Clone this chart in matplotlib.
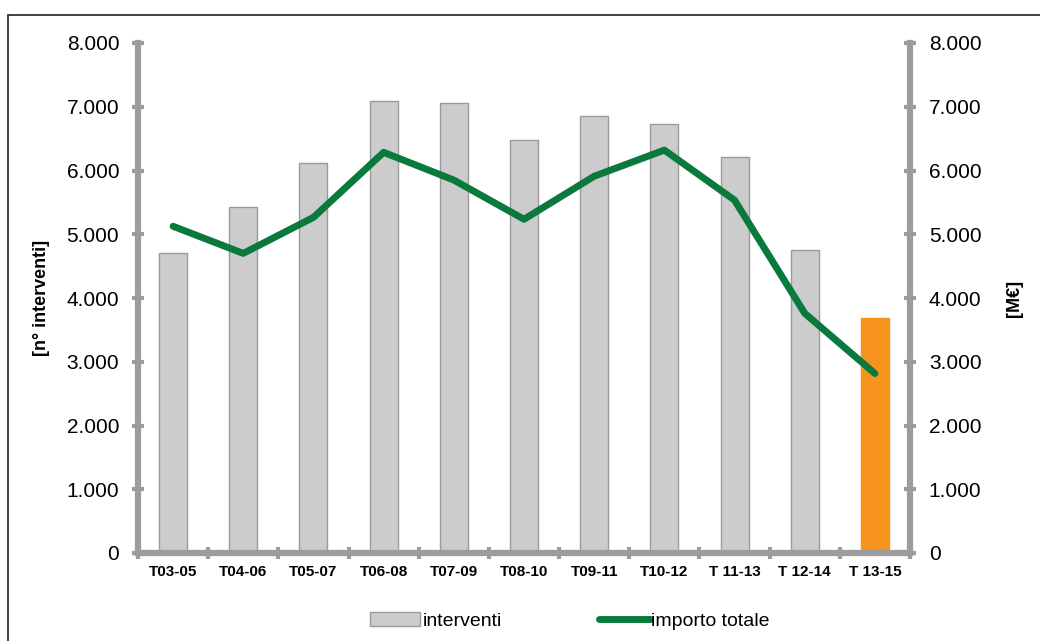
import matplotlib.pyplot as plt
from matplotlib.patches import Rectangle
from matplotlib.ticker import FuncFormatter, FixedLocator
import numpy as np

plt.rcParams["font.family"] = ["Liberation Sans", "DejaVu Sans"]

periodi = ["T03-05", "T04-06", "T05-07", "T06-08", "T07-09", "T08-10",
           "T09-11", "T10-12", "T 11-13", "T 12-14", "T 13-15"]
interventi = [4700, 5420, 6115, 7090, 7055, 6480, 6850, 6730, 6210, 4750, 3680]
importo = [5125, 4700, 5265, 6285, 5850, 5235, 5910, 6320, 5535, 3760, 2815]

grigio = "#9c9c9c"
fmt = FuncFormatter(lambda v, p: f"{int(v):,}".replace(",", "."))

fig = plt.figure(figsize=(10.4, 6.41), dpi=100)
fig.patches.append(Rectangle((8 / 1040, -0.1), 1.2, (641 - 15) / 641 + 0.1,
                             transform=fig.transFigure, fill=False,
                             edgecolor="#222222", linewidth=1.2))

ax = fig.add_axes([138 / 1040, 88 / 641, (910 - 138) / 1040, (553 - 43) / 641])
ax2 = ax.twinx()

x = np.arange(len(periodi))
colori = ["#cccccc"] * (len(periodi) - 1) + ["#f7941d"]
bordi = ["#9a9a9a"] * (len(periodi) - 1) + ["#f7941d"]
ax.bar(x, interventi, width=0.4, color=colori, edgecolor=bordi, linewidth=1,
       label="interventi", zorder=2)
ax2.plot(x, importo, color="#0a7a3c", linewidth=5, solid_capstyle="round",
         solid_joinstyle="round", label="importo totale", zorder=3)

for a in (ax, ax2):
    a.set_ylim(0, 8000)
    a.set_xlim(-0.5, len(periodi) - 0.5)
    a.yaxis.set_major_locator(FixedLocator(np.arange(0, 8001, 1000)))
    a.yaxis.set_major_formatter(fmt)
    for s in a.spines.values():
        s.set_visible(False)

ax.spines["left"].set_visible(True)
ax.spines["bottom"].set_visible(True)
ax2.spines["right"].set_visible(True)
for s in (ax.spines["left"], ax.spines["bottom"], ax2.spines["right"]):
    s.set_color(grigio)
    s.set_linewidth(4.5)

ax.set_xticks(x)
ax.set_xticklabels(periodi, fontsize=11, fontweight="bold")
ax.set_xticks(np.arange(-0.5, len(periodi), 1), minor=True)
ax.tick_params(axis="x", which="major", length=0, pad=9)
ax.tick_params(axis="x", which="minor", direction="inout", length=9,
               width=3, color=grigio)
ax.tick_params(axis="y", direction="inout", length=9, width=3, color=grigio,
               labelsize=15, pad=9)
ax2.tick_params(axis="y", direction="inout", length=9, width=3, color=grigio,
                labelsize=15, pad=9)
ax2.set_zorder(ax.get_zorder() + 1)

ax.set_ylabel("[n° interventi]", fontsize=13, fontweight="bold", labelpad=12)
ax2.set_ylabel("[M€]", fontsize=13, fontweight="bold", labelpad=18)

h1, l1 = ax.get_legend_handles_labels()
h2, l2 = ax2.get_legend_handles_labels()
fig.legend(h1 + h2, l1 + l2, loc="center", bbox_to_anchor=(0.548, 0.031),
           ncol=2, frameon=False, fontsize=14, handlelength=2.6,
           handletextpad=0.1, columnspacing=5.0)

fig.savefig("out.png", dpi=100)
